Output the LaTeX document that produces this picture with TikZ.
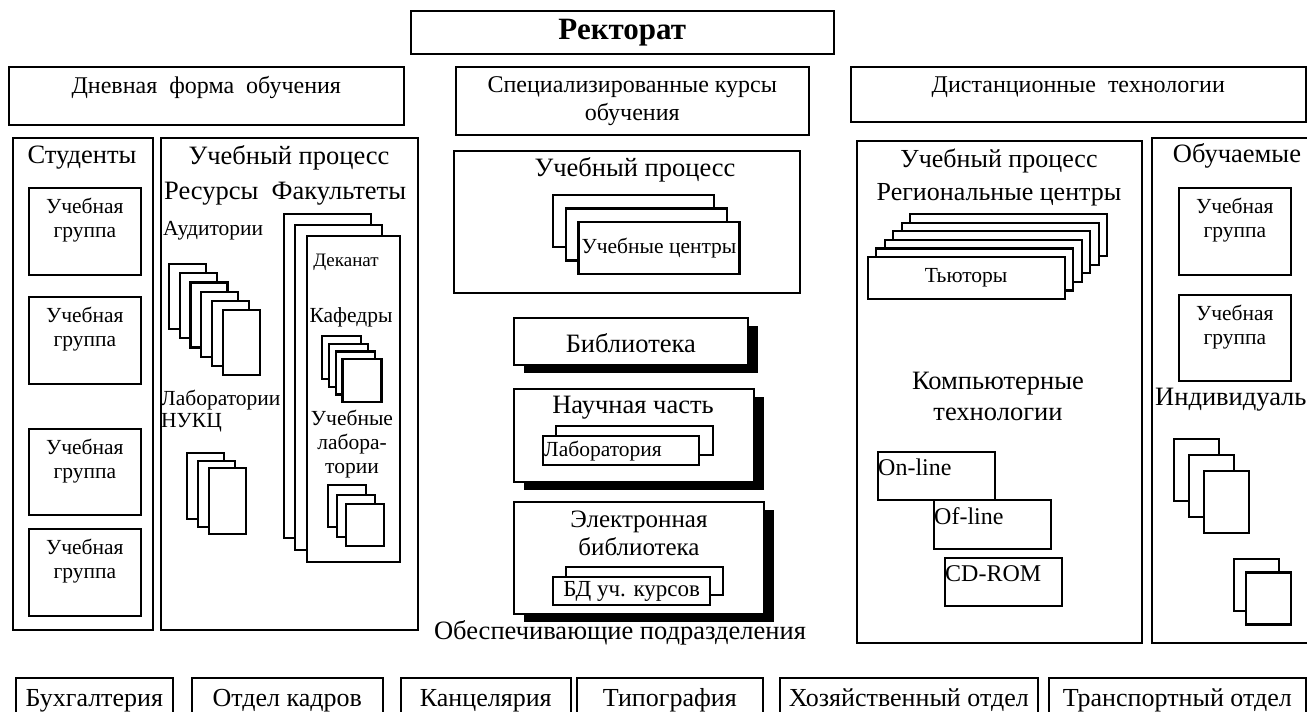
\documentclass[tikz,border=0pt]{standalone}
\usepackage{fontspec}
\setmainfont{Liberation Serif}
\usetikzlibrary{positioning,shadows}

\begin{document}
\begin{tikzpicture}[
  x=1pt,y=-1pt,
  frame/.style={draw, line width=1.6pt, fill=white, anchor=north west, inner sep=0pt},
  sheet/.style={draw, line width=2.2pt, fill=white, anchor=north west, inner sep=0pt},
  shadowed/.style={frame, drop shadow={shadow xshift=10pt, shadow yshift=-8pt, fill=black, opacity=1}},
  txt/.style={inner sep=0pt},
  huge/.style={txt, font=\fontsize{26.5}{31}\selectfont},
  top/.style={txt, font=\fontsize{24}{28}\selectfont},
  mid/.style={txt, font=\fontsize{21.5}{24}\selectfont},
  small/.style={txt, font=\fontsize{19}{22}\selectfont}
]

% Canvas, 1307 x 712
\useasboundingbox (0,0) rectangle (1307,712);
\fill[white] (0,0) rectangle (1307,712);
\clip (0,0) rectangle (1307,712);

% Header
\node[frame, minimum width=423, minimum height=43, font=\bfseries\fontsize{31}{34}\selectfont] (rectorat) at (410,10) {Ректорат};
\node[frame, minimum width=395, minimum height=58] (day) at (8,66) {};
\node[top] (dayT) at ([yshift=-21pt]day.north) {Дневная\ \ форма\ \ обучения};
\node[frame, minimum width=353, minimum height=68] (spec) at (455,66) {};
\node[top, align=center] (specT) at ([yshift=-35pt]spec.north) {Специализированные курсы\\обучения};
\node[frame, minimum width=455, minimum height=55] (dist) at (850,66) {};
\node[top] (distT) at ([yshift=-21pt]dist.north) {Дистанционные\ \ технологии};

% Day form: students
\node[frame, minimum width=140, minimum height=492] (students) at (12,137) {};
\node[huge] (studentsT) at (82,158) {Студенты};
\foreach \y/\h [count=\i] in {187/87, 296/87, 428/86, 528/87} {
  \node[frame, minimum width=112, minimum height=\h] (grp\i) at (28,\y) {};
  \node[mid, align=center, below=11pt of grp\i.north] {Учебная\\группа};
}

% Day form: process
\node[frame, minimum width=257, minimum height=492] (process) at (160,137) {};
\node[huge] (processT) at (289,158) {Учебный процесс};
\node[huge, anchor=west] (resT) at (164,194) {Ресурсы\ \ Факультеты};
\node[mid, anchor=west] (audT) at (163,231) {Аудитории};
\foreach \i in {0,...,5}
  \node[sheet, minimum width=37, minimum height=65] (aud\i) at ({168+10.7*\i},{263+9.2*\i}) {};
\node[mid, anchor=west] (labT) at (161,400) {Лаборатории};
\node[mid, anchor=west] (nukcT) at (161,423) {НУКЦ};
\foreach \i in {0,...,2}
  \node[sheet, minimum width=37, minimum height=66] (nukc\i) at ({186+11*\i},{452+7.5*\i}) {};

% Faculties
\foreach \x/\y/\w/\h [count=\i] in {283/213/87/324, 294/224/87/325, 306/235/93/326}
  \node[sheet, minimum width=\w, minimum height=\h] (fac\i) at (\x,\y) {};
\node[small] (deanT) at (346,262) {Деканат};
\node[mid] (chairT) at (351,317) {Кафедры};
\foreach \i in {0,...,3}
  \node[sheet, minimum width=39, minimum height=43] (chair\i) at ({321+6.8*\i},{335+7.7*\i}) {};
\node[mid, align=center] (ulabT) at (352,444) {Учебные\\лабора-\\тории};
\foreach \i in {0,...,2}
  \node[sheet, minimum width=38, minimum height=42] (ulab\i) at ({327+9*\i},{484+9.5*\i}) {};

% Specialised courses
\node[frame, minimum width=346, minimum height=142] (spproc) at (453,150) {};
\node[huge] (spprocT) at (635,170) {Учебный процесс};
\foreach \i in {0,...,2}
  \node[sheet, minimum width=161, minimum height=52] (centre\i) at ({552+12.7*\i},{194+13.3*\i}) {};
\node[mid] at (centre2) {Учебные центры};

\node[shadowed, minimum width=234, minimum height=47] (library) at (513,317) {};
\node[huge] (libraryT) at ([yshift=-2pt]library) {Библиотека};

\node[shadowed, minimum width=240, minimum height=93] (science) at (513,388) {};
\node[huge] (scienceT) at (633,408) {Научная часть};
\node[sheet, minimum width=157, minimum height=29] (lab0) at (555,425) {};
\node[sheet, minimum width=156, minimum height=29] (lab1) at (542,435) {};
\node[mid, right=2pt of lab1.west] {Лаборатория};

\node[shadowed, minimum width=250, minimum height=112] (elib) at (513,501) {};
\node[txt, align=center, font=\fontsize{25}{28}\selectfont] (elibT) at (639,533) {Электронная\\библиотека};
\node[sheet, minimum width=157, minimum height=28] (db0) at (565,566) {};
\node[sheet, minimum width=157, minimum height=28] (db1) at (552,576) {};
\node[txt, font=\fontsize{23}{26}\selectfont] at (db1) {БД уч. курсов};

\node[huge] (supportT) at (620,633) {Обеспечивающие подразделения};

% Distance learning: process
\node[frame, minimum width=285, minimum height=502] (dproc) at (856,140) {};
\node[huge, align=center, font=\fontsize{26}{33}\selectfont] (dprocT) at (999,177) {Учебный процесс\\Региональные центры};
\foreach \i in {0,...,5}
  \node[sheet, minimum width=197, minimum height=42] (tutor\i) at ({909-8.5*\i},{213+8.6*\i}) {};
\node[mid] at (tutor5) {Тьюторы};
\node[huge, align=center] (compT) at (998,396) {Компьютерные\\технологии};
\node[frame, minimum width=117, minimum height=48] (online) at (877,451) {};
\node[frame, minimum width=117, minimum height=49] (offline) at (933,499) {};
\node[frame, minimum width=117, minimum height=48] (cdrom) at (944,557) {};
\foreach \b/\t in {online/On-line, offline/Of-line, cdrom/CD-ROM}
  \node[txt, font=\fontsize{24}{28}\selectfont, below right=8pt and 1pt of \b.north west] {\t};

% Distance learning: learners
\node[frame, minimum width=170, minimum height=505] (learners) at (1151,137) {};
\node[huge] (learnersT) at (1237,156) {Обучаемые};
\foreach \y/\h [count=\i] in {187/87, 294/86} {
  \node[frame, minimum width=112, minimum height=\h] (lgrp\i) at (1178,\y) {};
  \node[mid, align=center, below=11pt of lgrp\i.north] {Учебная\\группа};
}
\node[huge, anchor=west] (indT) at (1155,400) {Индивидуаль};
\foreach \i in {0,...,2}
  \node[sheet, minimum width=45, minimum height=62] (ind\i) at ({1173+15*\i},{438+15.8*\i}) {};
\foreach \i in {0,1}
  \node[sheet, minimum width=45, minimum height=52] (indb\i) at ({1233+12*\i},{558+13.4*\i}) {};

% Support units
\foreach \x/\w/\t [count=\i] in {15/157/Бухгалтерия, 191/191/Отдел кадров, 400/170/Канцелярия,
    576/186/Типография, 779/258/Хозяйственный отдел, 1048/257/Транспортный отдел}
  \node[frame, minimum width=\w, minimum height=46, text height=18pt, text depth=6pt,
    font=\fontsize{26}{30}\selectfont] (unit\i) at (\x,677) {\t};

\end{tikzpicture}
\end{document}
